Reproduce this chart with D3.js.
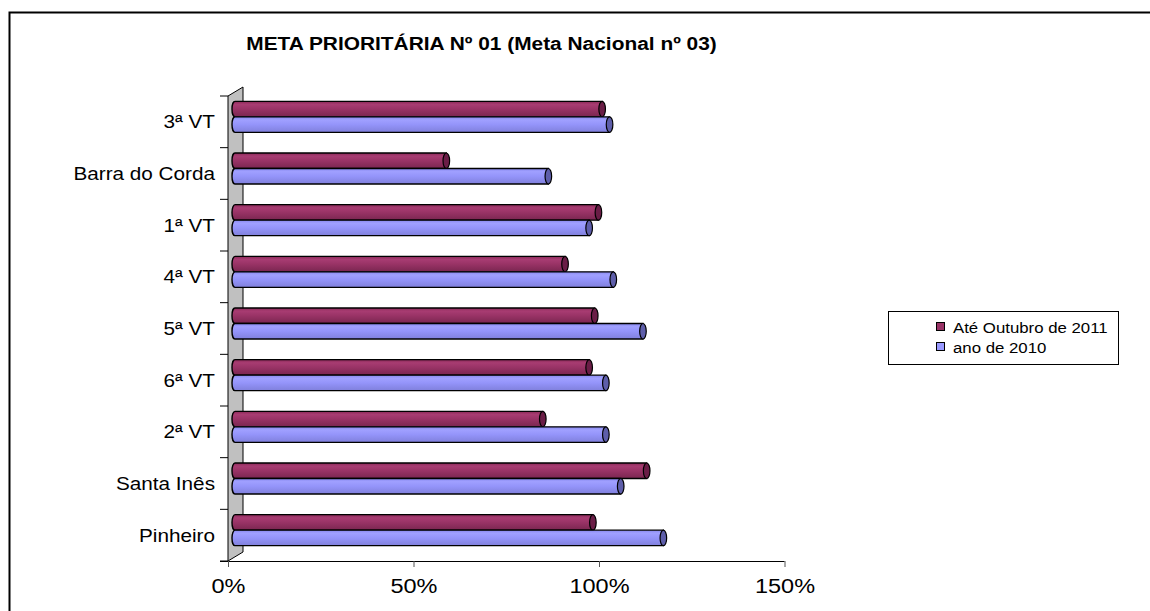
<!DOCTYPE html>
<html>
<head>
<meta charset="utf-8">
<script src="https://cdn.jsdelivr.net/npm/d3@7"></script>
<style>
  html, body { margin: 0; padding: 0; background: #fff; overflow: hidden; }
  svg { display: block; }
  svg text { font-family: "Liberation Sans", Arial, sans-serif; fill: #000; }
</style>
</head>
<body>
<svg id="chart" width="1150" height="611"></svg>
<script>
const title = "META PRIORITÁRIA Nº 01 (Meta Nacional nº 03)";
const categories = ["3ª VT", "Barra do Corda", "1ª VT", "4ª VT", "5ª VT", "6ª VT", "2ª VT", "Santa Inês", "Pinheiro"];
const seriesNames = ["Até Outubro de 2011", "ano de 2010"];
const ate2011 = [0.995, 0.575, 0.985, 0.895, 0.975, 0.96, 0.835, 1.115, 0.97];
const ano2010 = [1.015, 0.85, 0.96, 1.025, 1.105, 1.005, 1.005, 1.045, 1.16];
const xTicks = [0, 0.5, 1.0, 1.5];

const svg = d3.select("#chart");
const SX = 1.12; // horizontal stretch of the original text rendering

// outer border (open to the right and bottom, like the reference crop)
svg.append("path").attr("d", "M1160,12.5 H9.5 V620")
  .attr("fill", "none").attr("stroke", "#000").attr("stroke-width", 2);

// title
svg.append("text")
  .attr("transform", `translate(481.5,50) scale(1.13,1)`)
  .attr("text-anchor", "middle").attr("font-size", 18.5).attr("font-weight", "bold")
  .text(title);

const x = d3.scaleLinear().domain([0, 1.5]).range([228, 784.5]);
const y = d3.scaleBand().domain(categories).range([96, 561]).padding(0);

const depthX = 15, depthY = -9;       // wall depth
const barDX = 5;                        // bar depth offset
const barH = 15.5;

// defs: gradients
const defs = svg.append("defs");
function grad(id, stops) {
  const g = defs.append("linearGradient").attr("id", id).attr("x1", 0).attr("y1", 0).attr("x2", 0).attr("y2", 1);
  stops.forEach(s => g.append("stop").attr("offset", s[0]).attr("stop-color", s[1]));
}
grad("gRed", [[0, "#8a2a58"], [0.2, "#a83c72"], [0.5, "#993366"], [1, "#7a2650"]]);
grad("gBlue", [[0, "#8888ee"], [0.2, "#a0a0ff"], [0.5, "#9494fa"], [1, "#8080dc"]]);

// wall (left, grey)
const x0 = x(0), yTop = y.range()[0], yBot = y.range()[1];
svg.append("path")
  .attr("d", `M${x0},${yTop} L${x0 + depthX},${yTop + depthY} L${x0 + depthX},${yBot + depthY} L${x0},${yBot} Z`)
  .attr("fill", "#c0c0c0").attr("stroke", "#000").attr("stroke-width", 1);

// y-axis ticks at band boundaries
const bounds = categories.map(c => y(c)).concat([yBot]);
svg.append("g").selectAll("line").data(bounds).join("line")
  .attr("x1", x0 - 8).attr("x2", x0).attr("y1", d => d).attr("y2", d => d)
  .attr("stroke", "#000").attr("stroke-width", 1);

// x axis
const xAxis = svg.append("g").attr("transform", `translate(0,${yBot})`)
  .call(d3.axisBottom(x).tickValues(xTicks).tickFormat(d3.format(".0%")).tickSize(6).tickSizeOuter(0));
xAxis.select(".domain").attr("stroke", "#000").attr("d", `M${x0 - 8},0.5H${x(1.5)}`);
xAxis.selectAll(".tick line").attr("stroke", "#555");
xAxis.selectAll(".tick text")
  .attr("y", 0).attr("dy", 0)
  .attr("transform", `translate(0,32) scale(${SX},1)`)
  .attr("font-size", 21).attr("font-family", "Liberation Sans, Arial, sans-serif");

// category labels
svg.append("g").selectAll("text").data(categories).join("text")
  .attr("transform", d => `translate(215,${y(d) + y.bandwidth() / 2 + 6.5}) scale(${SX},1)`)
  .attr("text-anchor", "end").attr("font-size", 18.5)
  .text(d => d);

// bars
const series = [
  { name: seriesNames[0], values: ate2011, fill: "url(#gRed)", cap: "#6a1d46", off: -20.5 },
  { name: seriesNames[1], values: ano2010, fill: "url(#gBlue)", cap: "#5e5eaa", off: -5 }
];
function barPath(xs, xe, yt, h) {
  const r = 3;
  return `M${xs + r},${yt} L${xe},${yt} L${xe},${yt + h} L${xs + r},${yt + h} A${r},${h / 2} 0 0 1 ${xs + r},${yt} Z`;
}
series.forEach(s => {
  const g = svg.append("g");
  const rows = categories.map((c, i) => ({ c, v: s.values[i] }));
  g.selectAll("path").data(rows).join("path")
    .attr("d", d => {
      const yt = y(d.c) + y.bandwidth() / 2 + s.off;
      return barPath(x(0) + barDX - 1, x(d.v) + barDX, yt, barH);
    })
    .attr("fill", s.fill).attr("stroke", "#000").attr("stroke-width", 1.4);
  g.selectAll("ellipse").data(rows).join("ellipse")
    .attr("cx", d => x(d.v) + barDX)
    .attr("cy", d => y(d.c) + y.bandwidth() / 2 + s.off + barH / 2)
    .attr("rx", 3.3).attr("ry", barH / 2)
    .attr("fill", s.cap).attr("stroke", "#000").attr("stroke-width", 1.2);
});

// legend
const lg = svg.append("g");
lg.append("rect").attr("x", 888.5).attr("y", 311.5).attr("width", 230).attr("height", 53)
  .attr("fill", "#fff").attr("stroke", "#000").attr("stroke-width", 1);
const legendColors = ["#993366", "#9999ff"];
seriesNames.forEach((n, i) => {
  const cy = 327 + i * 20;
  lg.append("rect").attr("x", 936.5).attr("y", cy - 4.5).attr("width", 8).attr("height", 8)
    .attr("fill", legendColors[i]).attr("stroke", "#000").attr("stroke-width", 1);
  lg.append("text").attr("transform", `translate(953,${cy + 5.5}) scale(${SX},1)`)
    .attr("font-size", 15).text(n);
});
</script>
</body>
</html>
